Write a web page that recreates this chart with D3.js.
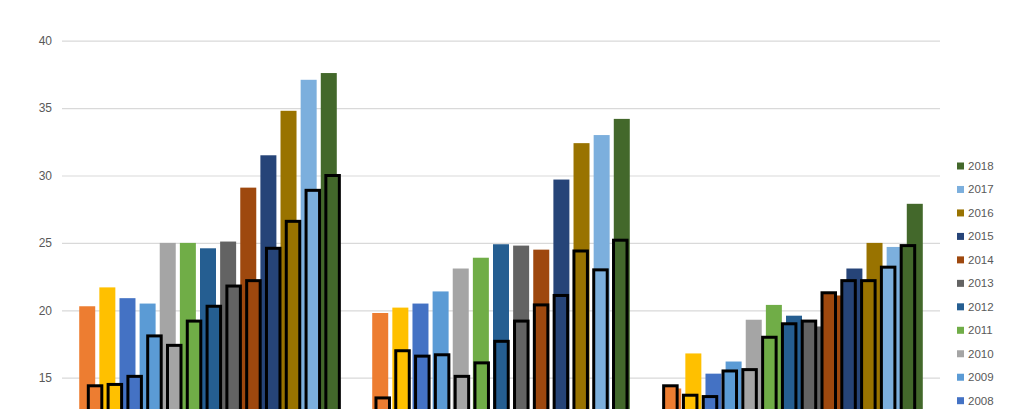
<!DOCTYPE html>
<html>
<head>
<meta charset="utf-8">
<script src="https://cdn.jsdelivr.net/npm/d3@7"></script>
<style>
  html, body { margin: 0; padding: 0; background: #fff; overflow: hidden; }
  svg { display: block; }
  text { font-family: "Liberation Sans", Arial, sans-serif; fill: #595959; }
</style>
</head>
<body>
<script>
// ---- Data ----
const groups = ["Group 1", "Group 2", "Group 3"];
const years = [2006, 2007, 2008, 2009, 2010, 2011, 2012, 2013, 2014, 2015, 2016, 2017, 2018];
const colors = ["#ED7D31", "#FFC000", "#4472C4", "#5B9BD5", "#A5A5A5", "#70AD47",
                "#255E91", "#636363", "#9E480E", "#264478", "#997300", "#7CAFDD", "#43682B"];
// plain bars (primary series), one array per group, in year order
const plainGroup1 = [20.3, 21.7, 20.9, 20.5, 25.0, 25.0, 24.6, 25.1, 29.1, 31.5, 34.8, 37.1, 37.6];
const plainGroup2 = [19.8, 20.2, 20.5, 21.4, 23.1, 23.9, 24.9, 24.8, 24.5, 29.7, 32.4, 33.0, 34.2];
const plainGroup3 = [14.2, 16.8, 15.3, 16.2, 19.3, 20.4, 19.6, 18.8, 21.1, 23.1, 25.0, 24.7, 27.9];
// outlined bars (secondary series), one array per group, in year order
const outlinedGroup1 = [14.4, 14.5, 15.1, 18.1, 17.4, 19.2, 20.3, 21.8, 22.2, 24.6, 26.6, 28.9, 30.0];
const outlinedGroup2 = [13.5, 17.0, 16.6, 16.7, 15.1, 16.1, 17.7, 19.2, 20.4, 21.1, 24.4, 23.0, 25.2];
const outlinedGroup3 = [14.4, 13.7, 13.6, 15.5, 15.6, 18.0, 19.0, 19.2, 21.3, 22.2, 22.2, 23.2, 24.8];
// visible tick labels (chart is cropped at the bottom)
const yTicks = [15, 20, 25, 30, 35, 40];
// legend entries visible in the cropped view (top to bottom)
const legendYears = [2018, 2017, 2016, 2015, 2014, 2013, 2012, 2011, 2010, 2009, 2008];

const plainData = [plainGroup1, plainGroup2, plainGroup3];
const outlinedData = [outlinedGroup1, outlinedGroup2, outlinedGroup3];

// ---- Layout ----
const W = 1024, H = 409;
const svg = d3.select("body").append("svg").attr("width", W).attr("height", H);

const y = d3.scaleLinear().domain([0, 40]).range([579.9, 40.7]);

const x0 = d3.scaleBand().domain(groups).range([61.5, 940.5]);
const x1 = d3.scaleBand().domain(years).range([0, x0.bandwidth()])
  .paddingInner(0.205).paddingOuter(0.88);

const x0b = d3.scaleBand().domain(groups).range([70, 933]);
const x1b = d3.scaleBand().domain(years).range([0, x0b.bandwidth()])
  .paddingInner(0.318).paddingOuter(0.925);

// gridlines + tick labels
const yAxis = d3.axisLeft(y).tickValues(yTicks).tickSize(-(940 - 62)).tickPadding(10);
const gAxis = svg.append("g").attr("transform", "translate(62,0)").call(yAxis);
gAxis.select(".domain").remove();
gAxis.selectAll(".tick line").attr("stroke", "#d9d9d9").attr("stroke-width", 1.2);
gAxis.selectAll(".tick text").attr("font-size", 12).style("fill", "#595959")
  .attr("font-family", "'Liberation Sans', Arial, sans-serif");

// plain bars
const flatPlain = [];
groups.forEach((g, gi) => years.forEach((yr, i) => flatPlain.push({g, yr, i, v: plainData[gi][i]})));
svg.append("g").selectAll("rect").data(flatPlain).join("rect")
  .attr("x", d => x0(d.g) + x1(d.yr))
  .attr("width", x1.bandwidth())
  .attr("y", d => y(d.v))
  .attr("height", d => y(0) - y(d.v))
  .attr("fill", d => colors[d.i]);

// outlined bars
const flatOut = [];
groups.forEach((g, gi) => years.forEach((yr, i) => flatOut.push({g, yr, i, v: outlinedData[gi][i]})));
svg.append("g").selectAll("rect").data(flatOut).join("rect")
  .attr("x", d => x0b(d.g) + x1b(d.yr))
  .attr("width", x1b.bandwidth())
  .attr("y", d => y(d.v))
  .attr("height", d => y(0) - y(d.v))
  .attr("fill", d => colors[d.i])
  .attr("stroke", "#000")
  .attr("stroke-width", 3);

// legend (2018 on top)
const lg = svg.append("g");
legendYears.forEach((yr, k) => {
  const cy = 166 + k * 23.47;
  const ci = years.indexOf(yr);
  lg.append("rect").attr("x", 957).attr("y", cy - 3.5).attr("width", 7).attr("height", 7)
    .attr("fill", colors[ci]);
  lg.append("text").attr("x", 968).attr("y", cy).attr("dy", "0.35em")
    .attr("font-size", 11.5).text(yr);
});
</script>
</body>
</html>
